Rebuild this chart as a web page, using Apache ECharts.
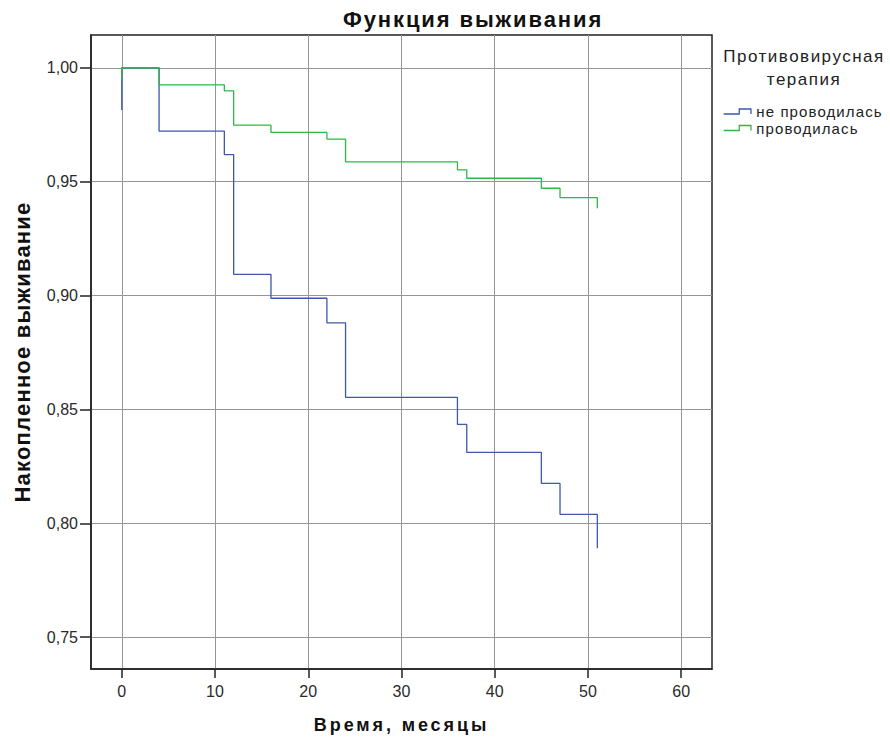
<!DOCTYPE html>
<html><head><meta charset="utf-8">
<script src="https://cdn.jsdelivr.net/npm/echarts@6/dist/echarts.min.js"></script>
<style>html,body{margin:0;padding:0;background:#fff}#c{width:890px;height:740px}</style>
</head><body><div id="c"></div>
<script>
// Kaplan-Meier step data: time (months) and cumulative survival after each step
const seriesNames = ['не проводилась', 'проводилась'];
const timeNoTherapy = [0, 0, 4, 11, 12, 16, 22, 24, 36, 37, 45, 47, 51];
const survNoTherapy = [0.9815, 1.0, 0.9722, 0.9619, 0.9093, 0.8988, 0.8880, 0.8553, 0.8434, 0.8311, 0.8175, 0.8039, 0.7890];
const timeTherapy = [0, 0, 4, 11, 12, 16, 22, 24, 36, 37, 45, 47, 51];
const survTherapy = [0.995, 1.0, 0.9925, 0.9899, 0.9748, 0.9716, 0.9687, 0.9587, 0.9552, 0.9515, 0.9471, 0.9430, 0.9383];
const xTicks = [0, 10, 20, 30, 40, 50, 60];
const yTicks = [0.75, 0.80, 0.85, 0.90, 0.95, 1.00];

const TITLE = 'Функция выживания';
const X_NAME = 'Время, месяцы';
const Y_NAME = 'Накопленное выживание';
const LEGEND_TITLE = ['Противовирусная', 'терапия'];

const FONT = 'Liberation Sans, Arial, sans-serif';
const colors = ['#3E58AC', '#2EB848'];
const pairs = (t, s) => t.map((v, i) => [v, s[i]]);

// extra letter spacing (px) of the reference's widely spaced texts
const spacing = {};
spacing[TITLE] = 1.9;
spacing[X_NAME] = 2.9;
spacing[Y_NAME] = 1.2;
spacing[LEGEND_TITLE[0]] = 1.5;
spacing[LEGEND_TITLE[1]] = 1.5;
spacing[seriesNames[0]] = 1.1;
spacing[seriesNames[1]] = 1.1;

const chart = echarts.init(document.getElementById('c'), null, {renderer: 'svg'});
chart.setOption({
  animation: false,
  backgroundColor: '#fff',
  title: [
    {text: TITLE, left: 343, top: 8, padding: 0,
     textStyle: {fontFamily: FONT, fontSize: 22, fontWeight: 'bold', color: '#111'}},
    {text: LEGEND_TITLE.join('\n'), left: 804, top: 45, textAlign: 'center', padding: 0,
     textStyle: {fontFamily: FONT, fontSize: 17, fontWeight: 'normal', color: '#222', lineHeight: 23}}
  ],
  legend: {
    orient: 'vertical', left: 723, top: 104, padding: 0, itemWidth: 28, itemHeight: 5, itemGap: 1.5,
    icon: 'path://M0,5 L15.6,5 L15.6,0 L27.3,0 L27.3,5',
    textStyle: {fontFamily: FONT, fontSize: 15, color: '#222', lineHeight: 15},
    data: seriesNames.map((n, i) => ({name: n, itemStyle: {color: 'rgba(0,0,0,0)', borderColor: colors[i], borderWidth: 1.3}}))
  },
  grid: {left: 91, top: 35, width: 621, height: 634, show: true, borderColor: '#222', borderWidth: 1.5,
         containLabel: false, outerBoundsMode: 'none'},
  xAxis: {
    type: 'value', min: -3.3, max: 63.3, interval: 10,
    name: X_NAME, nameLocation: 'middle', nameGap: 47,
    nameTextStyle: {fontFamily: FONT, fontSize: 18, fontWeight: 'bold', color: '#111'},
    axisLine: {show: true, onZero: false, lineStyle: {color: '#222', width: 1.5}},
    axisTick: {show: true, inside: false, length: 9, customValues: xTicks, lineStyle: {color: '#222', width: 1.5}},
    axisLabel: {customValues: xTicks, margin: 14, fontFamily: FONT, fontSize: 16, color: '#2a2a2a'},
    splitLine: {show: true, lineStyle: {color: '#959595', width: 1}}
  },
  yAxis: {
    type: 'value', min: 0.736, max: 1.0144, interval: 0.05,
    name: Y_NAME, nameLocation: 'middle', nameGap: 58, nameRotate: 90,
    nameTextStyle: {fontFamily: FONT, fontSize: 22, fontWeight: 'bold', color: '#111'},
    axisLine: {show: true, onZero: false, lineStyle: {color: '#222', width: 1.5}},
    axisTick: {show: true, inside: false, length: 11, customValues: yTicks, lineStyle: {color: '#222', width: 1.5}},
    axisLabel: {customValues: yTicks, margin: 13, fontFamily: FONT, fontSize: 16, color: '#2a2a2a',
      formatter: v => v.toFixed(2).replace('.', ',')},
    splitLine: {show: true, lineStyle: {color: '#959595', width: 1}}
  },
  series: [
    {name: seriesNames[0], type: 'line', step: 'end', showSymbol: false, symbol: 'none', z: 2,
     lineStyle: {color: colors[0], width: 1.3}, itemStyle: {color: colors[0]},
     data: pairs(timeNoTherapy, survNoTherapy)},
    {name: seriesNames[1], type: 'line', step: 'end', showSymbol: false, symbol: 'none', z: 3,
     lineStyle: {color: colors[1], width: 1.3}, itemStyle: {color: colors[1]},
     data: pairs(timeTherapy, survTherapy)}
  ]
});

function applySpacing() {
  document.querySelectorAll('#c svg text').forEach(t => {
    const s = spacing[t.textContent.trim()];
    if (s) t.setAttribute('letter-spacing', s);
  });
}
try { chart.getZr().flush(); } catch (e) {}
applySpacing();
chart.on('finished', applySpacing);
</script></body></html>
